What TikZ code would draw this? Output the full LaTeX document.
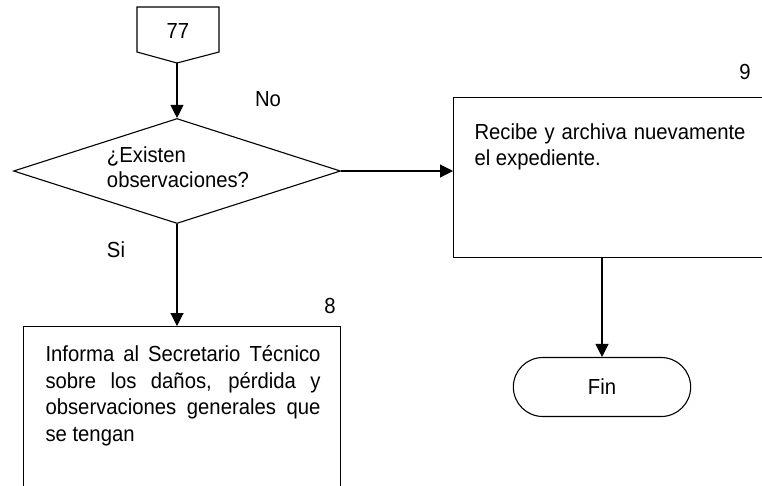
\documentclass[tikz,border=0pt]{standalone}
\usepackage{fontspec}
\setmainfont[FakeStretch=0.93]{Liberation Sans}
\usetikzlibrary{shapes.geometric,shapes.misc,arrows.meta,positioning,calc}
\hyphenpenalty=10000
\exhyphenpenalty=10000

\begin{document}
\begin{tikzpicture}[x=1pt, y=-1pt, >={Triangle[length=13pt,width=13pt]}, line width=1.1pt,
    every node/.style={font=\fontsize{21.8}{26.5}\selectfont},
    procbox/.style={draw, rectangle, inner sep=0pt},
    proctext/.style={anchor=north west, inner sep=0pt, align=justify},
    decbox/.style={draw, diamond, minimum width=327pt, minimum height=105pt, inner sep=0pt},
    termbox/.style={draw, rounded rectangle, minimum width=184pt, minimum height=59pt}]
    \useasboundingbox (0,0) rectangle (762,485);
    \clip (0,0) rectangle (762,485);

    % off-page connector
    \draw (137,7) -- (219,7) -- (219,52) -- (177,63) -- (137,52) -- cycle;
    \node (n77) at (178,31) {77};
    \coordinate (p77) at (177,63);

    % decision
    \node[decbox] (dec) at (177,171) {};
    \node[align=left, inner sep=0pt, font=\fontsize{21.8}{25}\selectfont] (dectext) at (178,167) {¿Existen\\observaciones?};
    \node (lblno) at (268,99) {No};
    \node (lblsi) at (116,250) {Si};

    % step 8
    \node[procbox, minimum width=317pt, minimum height=200pt, anchor=north west] (b8) at (23,326) {};
    \node[proctext, text width=275pt] (t8) at ([shift={(22,19)}]b8.north west)
        {Informa al Secretario Técnico\linebreak sobre los daños, pérdida y\linebreak observaciones generales que\linebreak se tengan};
    \node (num8) at (330,306) {8};

    % step 9
    \node[procbox, minimum width=311pt, minimum height=160pt, anchor=north west] (b9) at (453,97) {};
    \node[proctext, text width=271pt] (t9) at ([shift={(21,26)}]b9.north west)
        {Recibe y archiva nuevamente\linebreak el expediente.};
    \node (num9) at (745,72) {9};

    % end
    \node[termbox] (fin) at (602,387) {Fin};

    \draw[->] (p77) -- (dec.north);
    \draw[->] (dec.east) -- (dec.east -| b9.west);
    \draw[->] (dec.south) -- (dec.south |- b8.north);
    \draw[->] (fin.north |- b9.south) -- (fin.north);
\end{tikzpicture}
\end{document}
